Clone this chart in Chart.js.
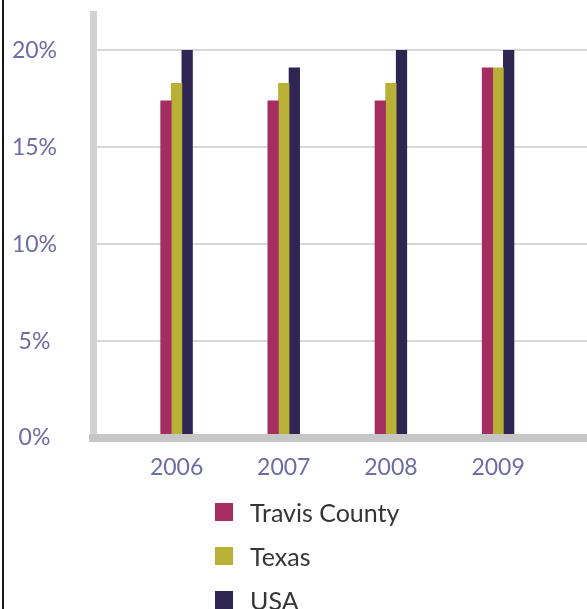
<!DOCTYPE html>
<html>
<head>
<meta charset="utf-8">
<script src="https://cdn.jsdelivr.net/npm/chart.js@4/dist/chart.umd.min.js"></script>
<style>
  html, body { margin: 0; padding: 0; background: #fff; }
  #wrap { position: relative; width: 587px; height: 609px; overflow: hidden; }
  #frame { position: absolute; left: 2px; top: 0; width: 2px; height: 609px; background: #151515; z-index: 2; }
  #chart { position: absolute; left: 0; top: 0; }
  #legend { position: absolute; left: 215px; top: 490px; font-family: Lato, sans-serif; font-size: 25px; color: #353535; }
  #legend .row { display: flex; align-items: center; height: 44px; }
  #legend .box { width: 18px; height: 18px; margin-right: 17px; }
</style>
</head>
<body>
<div id="wrap">
  <div id="frame"></div>
  <canvas id="chart" width="587" height="500"></canvas>
  <div id="legend"></div>
</div>
<script>
// Share of population, by year
const years = [2006, 2007, 2008, 2009];
const travisCounty = [17.4, 17.4, 17.4, 19.1];
const texas = [18.3, 18.3, 18.3, 19.1];
const usa = [20, 19.1, 20, 20];
const yTicks = [0, 5, 10, 15, 20];

const seriesNames = ['Travis County', 'Texas', 'USA'];
const seriesColors = ['#a52d5f', '#b8b135', '#2f2552'];
const tickColor = '#6c6ca6';

const toPoints = (vals) => vals.map((v, i) => ({ x: years[i], y: v }));

// builds the list under the chart from the library's own legend items
const htmlLegend = {
  id: 'htmlLegend',
  afterUpdate(chart) {
    const box = document.getElementById('legend');
    box.innerHTML = '';
    const items = Chart.defaults.plugins.legend.labels.generateLabels(chart);
    items.forEach(item => {
      const row = document.createElement('div');
      row.className = 'row';
      const sw = document.createElement('span');
      sw.className = 'box';
      sw.style.background = item.fillStyle;
      const txt = document.createElement('span');
      txt.textContent = item.text;
      row.appendChild(sw);
      row.appendChild(txt);
      box.appendChild(row);
    });
  }
};

new Chart(document.getElementById('chart'), {
  type: 'bar',
  data: {
    datasets: [
      { label: seriesNames[0], data: toPoints(travisCounty), backgroundColor: seriesColors[0] },
      { label: seriesNames[1], data: toPoints(texas), backgroundColor: seriesColors[1] },
      { label: seriesNames[2], data: toPoints(usa), backgroundColor: seriesColors[2] }
    ]
  },
  options: {
    responsive: false,
    animation: false,
    layout: { padding: { top: 14, right: 0, bottom: 0, left: 0 } },
    datasets: { bar: { barThickness: 10.6, borderWidth: 0 } },
    plugins: {
      legend: { display: false },
      tooltip: { enabled: false }
    },
    scales: {
      x: {
        type: 'linear',
        offset: false,
        min: 2005.22,
        max: 2009.83,
        afterBuildTicks: (scale) => { scale.ticks = years.map(v => ({ value: v })); },
        afterFit: (scale) => { scale.height = 62; },
        grid: { display: false, drawTicks: false, offset: false },
        border: { color: '#c6c6c6', width: 8, z: 1 },
        ticks: {
          callback: (v) => String(v),
          color: tickColor,
          font: { family: 'Lato', size: 23 },
          padding: 16,
          maxRotation: 0
        }
      },
      y: {
        min: 0,
        max: 21.88,
        afterBuildTicks: (scale) => { scale.ticks = yTicks.map(v => ({ value: v })); },
        afterFit: (scale) => {
          // label padding also pads the top/bottom of the axis, keep only the width
          scale.width = 93;
          scale.paddingTop = 0;
          scale.paddingBottom = 0;
        },
        grid: { color: '#d8d8d8', lineWidth: 2, drawTicks: false },
        border: { color: '#d2d2d2', width: 7 },
        ticks: {
          callback: (v) => v + '%',
          color: tickColor,
          font: { family: 'Lato', size: 23 },
          crossAlign: 'center',
          padding: 36
        }
      }
    }
  },
  plugins: [htmlLegend]
});
</script>
</body>
</html>
